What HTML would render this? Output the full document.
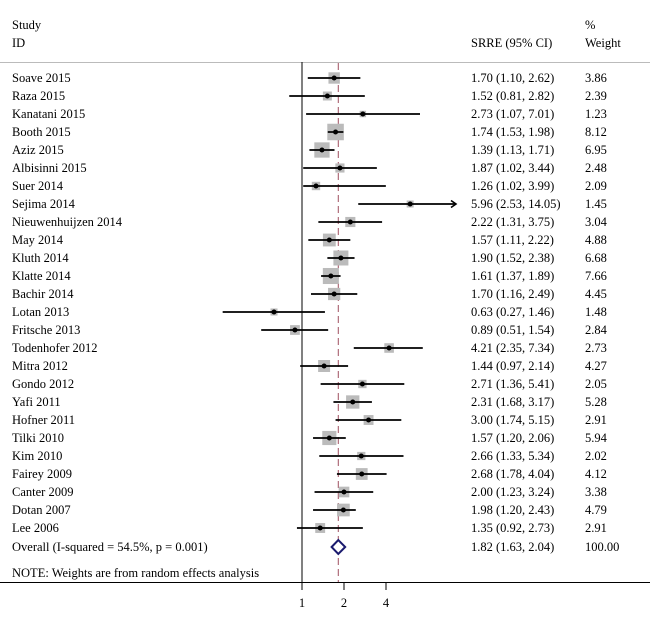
<!DOCTYPE html>
<html><head><meta charset="utf-8"><style>
body{margin:0;background:#fff}
svg{display:block;font-family:"Liberation Serif","DejaVu Serif",serif;font-size:12.5px}
</style></head><body>
<svg id="chart" width="650" height="619">
<line x1="0" y1="62.5" x2="650" y2="62.5" stroke="#bbb" stroke-width="1"/>
<text x="12" y="29">Study</text>
<text x="12" y="47">ID</text>
<text x="471" y="47">SRRE (95% CI)</text>
<text x="585" y="29">%</text>
<text x="585" y="47">Weight</text>
<g id="marks"></g>
<line x1="0" y1="582.5" x2="650" y2="582.5" stroke="#000"/>
<text x="12" y="577">NOTE: Weights are from random effects analysis</text>
</svg>
<script>
const studies=["Soave 2015","Raza 2015","Kanatani 2015","Booth 2015","Aziz 2015","Albisinni 2015","Suer 2014","Sejima 2014","Nieuwenhuijzen 2014","May 2014","Kluth 2014","Klatte 2014","Bachir 2014","Lotan 2013","Fritsche 2013","Todenhofer 2012","Mitra 2012","Gondo 2012","Yafi 2011","Hofner 2011","Tilki 2010","Kim 2010","Fairey 2009","Canter 2009","Dotan 2007","Lee 2006"];
const est=[1.70,1.52,2.73,1.74,1.39,1.87,1.26,5.96,2.22,1.57,1.90,1.61,1.70,0.63,0.89,4.21,1.44,2.71,2.31,3.00,1.57,2.66,2.68,2.00,1.98,1.35];
const lower=[1.10,0.81,1.07,1.53,1.13,1.02,1.02,2.53,1.31,1.11,1.52,1.37,1.16,0.27,0.51,2.35,0.97,1.36,1.68,1.74,1.20,1.33,1.78,1.23,1.20,0.92];
const upper=[2.62,2.82,7.01,1.98,1.71,3.44,3.99,14.05,3.75,2.22,2.38,1.89,2.49,1.46,1.54,7.34,2.14,5.41,3.17,5.15,2.06,5.34,4.04,3.24,2.43,2.73];
const weights=[3.86,2.39,1.23,8.12,6.95,2.48,2.09,1.45,3.04,4.88,6.68,7.66,4.45,1.48,2.84,2.73,4.27,2.05,5.28,2.91,5.94,2.02,4.12,3.38,4.79,2.91];
const overall=[1.82,1.63,2.04];
const overallLabel="Overall  (I-squared = 54.5%, p = 0.001)";
const ticks=[1,2,4];
const X=v=>302+42*Math.log2(v);
const XMAX=456;
const Y=i=>78+18*i;
const NS="http://www.w3.org/2000/svg";
const g=document.getElementById('marks');
function mk(tag,attrs,parent){const e=document.createElementNS(NS,tag);for(const k in attrs)e.setAttribute(k,attrs[k]);(parent||g).appendChild(e);return e;}
const fmt=v=>v.toFixed(2);
let e=mk('line',{x1:X(1),y1:62,x2:X(1),y2:583,stroke:'#000'});


e=mk('line',{x1:X(overall[0]),y1:63,x2:X(overall[0]),y2:583,stroke:'#a05060','stroke-dasharray':'7,4'});


studies.forEach((s,i)=>{
  const y=Y(i);
  const side=5.8*Math.sqrt(weights[i]);
  let b=mk('rect',{x:X(est[i])-side/2,y:y-side/2,width:side,height:side,fill:'#bbb'});
  
  
  const xr=Math.min(X(upper[i]),XMAX);
  let l=mk('line',{x1:X(lower[i]),y1:y,x2:xr,y2:y,stroke:'#000','stroke-width':1.7});
  
  
  if(X(upper[i])>XMAX){
    let a=mk('path',{d:`M${XMAX-5},${y-3.5} L${XMAX},${y} L${XMAX-5},${y+3.5}`,stroke:'#000',fill:'none','stroke-width':1.6});
    
    
  }
  let d=mk('circle',{cx:X(est[i]),cy:y,r:2.5,fill:'#000'});
  
  
  let t=mk('text',{x:12,y:y+4});t.textContent=s;
  
  
  let c=mk('text',{x:471,y:y+4});c.textContent=`${fmt(est[i])} (${fmt(lower[i])}, ${fmt(upper[i])})`;
  
  
  let w=mk('text',{x:585,y:y+4});w.textContent=fmt(weights[i]);
  
  
});
const oy=Y(studies.length)+1;
let dm=mk('path',{d:`M${X(overall[1])},${oy} L${X(overall[0])},${oy-7} L${X(overall[2])},${oy} L${X(overall[0])},${oy+7} Z`,fill:'#fff',stroke:'#1a1a6e','stroke-width':2});


let ot=mk('text',{x:12,y:oy+4});ot.textContent=overallLabel;


let oc=mk('text',{x:471,y:oy+4});oc.textContent=`${fmt(overall[0])} (${fmt(overall[1])}, ${fmt(overall[2])})`;


let ow=mk('text',{x:585,y:oy+4});ow.textContent="100.00";


ticks.forEach(v=>{
  let tk=mk('line',{x1:X(v),y1:582,x2:X(v),y2:590,stroke:'#000'});
  
  
  let tl=mk('text',{x:X(v),y:607,'text-anchor':'middle'});tl.textContent=v;
  
  
});
</script>
</body></html>
